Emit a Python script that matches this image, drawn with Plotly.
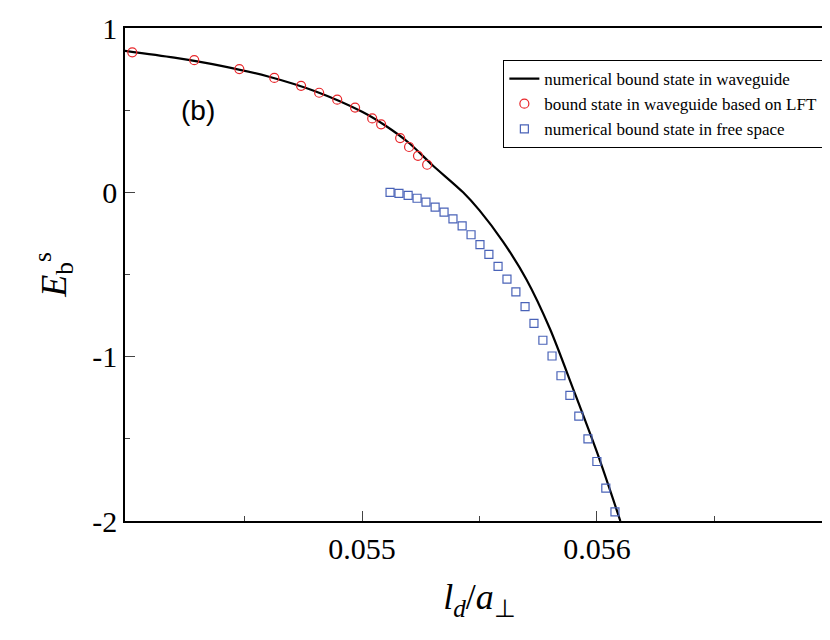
import plotly.graph_objects as go

# black line: numerical bound state in waveguide
line_x = [0.053987, 0.054200, 0.054400, 0.054600, 0.054800, 0.055000, 0.055100,
          0.055200, 0.055300, 0.055430, 0.055500, 0.055600, 0.055700, 0.055800,
          0.055900, 0.056000, 0.056100]
line_y = [0.862, 0.820, 0.770, 0.705, 0.615, 0.490, 0.405,
          0.300, 0.165, 0.0, -0.110, -0.300, -0.530, -0.830,
          -1.200, -1.580, -2.0]

# red circles: LFT
lft_x = [0.054021, 0.054285, 0.054477, 0.054626, 0.054740, 0.054817, 0.054894,
         0.054970, 0.055043, 0.055081, 0.055162, 0.055200, 0.055238, 0.055277]
lft_y = [0.852, 0.804, 0.750, 0.696, 0.648, 0.606, 0.564,
         0.516, 0.450, 0.414, 0.330, 0.276, 0.222, 0.168]

# blue squares: free space
free_x = [0.055119, 0.055157, 0.055196, 0.055234, 0.055272, 0.055311, 0.055349,
          0.055387, 0.055426, 0.055464, 0.055502, 0.055540, 0.055579, 0.055617,
          0.055655, 0.055694, 0.055732, 0.055770, 0.055809, 0.055847, 0.055885,
          0.055923, 0.055962, 0.056000, 0.056038, 0.056077]
free_y = [0.0, -0.006, -0.018, -0.036, -0.060, -0.090, -0.120, -0.162, -0.204,
          -0.258, -0.318, -0.378, -0.450, -0.528, -0.606, -0.696, -0.798, -0.900,
          -0.996, -1.116, -1.236, -1.362, -1.500, -1.638, -1.800, -1.944]

fig = go.Figure()
fig.add_trace(go.Scatter(x=line_x, y=line_y, mode="lines",
                         line=dict(color="black", width=2.2, shape="spline", smoothing=0.8),
                         name="numerical bound state in waveguide"))
fig.add_trace(go.Scatter(x=lft_x, y=lft_y, mode="markers",
                         marker=dict(symbol="circle-open", color="#e8262a", size=9, line=dict(width=1.2)),
                         name="bound state in waveguide based on LFT"))
fig.add_trace(go.Scatter(x=free_x, y=free_y, mode="markers",
                         marker=dict(symbol="square-open", color="#4a63b8", size=8, line=dict(width=1.2)),
                         name="numerical bound state in free space"))

fig.add_annotation(x=0.0543, y=0.5, text="(b)", showarrow=False,
                   font=dict(family="Liberation Sans", size=28, color="black"))

serif = "Liberation Serif"
fig.update_layout(
    width=830, height=640, plot_bgcolor="white", paper_bgcolor="white",
    margin=dict(l=117, r=2, t=20, b=127),
    font=dict(family=serif, color="black"),
    showlegend=True,
    legend=dict(x=0.985, y=0.935, xanchor="right", yanchor="top", bordercolor="black", borderwidth=1,
                font=dict(family=serif, size=17), bgcolor="white", tracegroupgap=0),
    xaxis=dict(range=[0.05399, 0.05701], tickvals=[0.055, 0.056], ticktext=["0.055", "0.056"],
               ticks="inside", ticklen=10, showline=True, mirror=True, linecolor="black", linewidth=1.5,
               showgrid=False, zeroline=False, tickfont=dict(size=30, family=serif),
               minor=dict(tickvals=[0.0545, 0.0555, 0.0565], ticks="inside", ticklen=5),
               title=dict(text="<i>l<sub>d</sub></i>/<i>a</i><sub>⊥</sub>", font=dict(size=36, family=serif), standoff=20)),
    yaxis=dict(range=[-2, 1], tickvals=[1, 0, -1, -2], ticktext=["1", "0", "-1", "-2"],
               ticks="inside", ticklen=10, showline=True, mirror=True, linecolor="black", linewidth=1.5,
               showgrid=False, zeroline=False, tickfont=dict(size=30, family=serif),
               minor=dict(tickvals=[0.5, -0.5, -1.5], ticks="inside", ticklen=5),
               title=dict(text="<i>E</i><sub>b</sub><sup>s</sup>", font=dict(size=36, family=serif), standoff=15)),
)

fig.write_html("out.html")
